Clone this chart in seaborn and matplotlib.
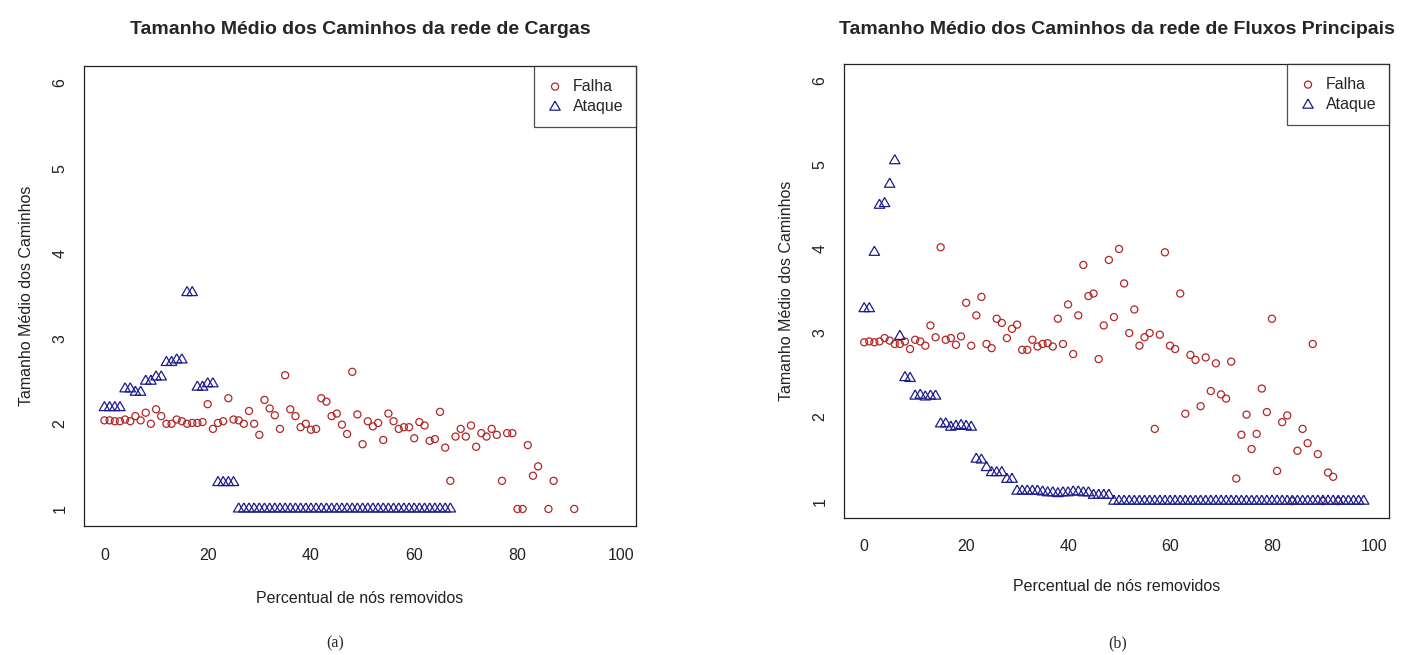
import matplotlib
matplotlib.use("Agg")
import matplotlib.pyplot as plt
import seaborn as sns
import numpy as np
import pandas as pd

# ---- Data (percent of nodes removed vs avg path length) ----

# (a) rede de Cargas
cargas_falha_pct = list(range(0, 92))
cargas_falha = [2.04, 2.04, 2.03, 2.03, 2.05, 2.03, 2.09, 2.04, 2.13, 2.00,
                2.17, 2.09, 2.00, 2.00, 2.05, 2.03, 2.00, 2.01, 2.01, 2.02,
                2.23, 1.94, 2.01, 2.03, 2.30, 2.05, 2.04, 2.00, 2.15, 2.00,
                1.87, 2.28, 2.18, 2.10, 1.94, 2.57, 2.17, 2.09, 1.96, 2.00,
                1.93, 1.94, 2.30, 2.26, 2.09, 2.12, 1.99, 1.88, 2.61, 2.11,
                1.76, 2.03, 1.97, 2.01, 1.81, 2.12, 2.03, 1.94, 1.96, 1.96,
                1.83, 2.02, 1.98, 1.80, 1.82, 2.14, 1.72, 1.33, 1.85, 1.94,
                1.85, 1.98, 1.73, 1.89, 1.85, 1.94, 1.87, 1.33, 1.89, 1.89,
                1.00, 1.00, 1.75, 1.39, 1.50, None, 1.00, 1.33, None, None,
                None, 1.00]

cargas_ataque_pct = list(range(0, 68))
cargas_ataque = [2.19, 2.19, 2.19, 2.19, 2.41, 2.41, 2.37, 2.37, 2.50, 2.50,
                 2.55, 2.55, 2.72, 2.72, 2.75, 2.75, 3.54, 3.54, 2.43, 2.43,
                 2.47, 2.47, 1.31, 1.31, 1.31, 1.31, 1.00, 1.00, 1.00, 1.00,
                 1.00, 1.00, 1.00, 1.00, 1.00, 1.00, 1.00, 1.00, 1.00, 1.00,
                 1.00, 1.00, 1.00, 1.00, 1.00, 1.00, 1.00, 1.00, 1.00, 1.00,
                 1.00, 1.00, 1.00, 1.00, 1.00, 1.00, 1.00, 1.00, 1.00, 1.00,
                 1.00, 1.00, 1.00, 1.00, 1.00, 1.00, 1.00, 1.00]

# (b) rede de Fluxos Principais
fluxos_falha_pct = list(range(0, 94))
fluxos_falha = [2.89, 2.90, 2.89, 2.90, 2.94, 2.91, 2.87, 2.87, 2.90, 2.81,
                2.92, 2.90, 2.85, 3.09, 2.95, 4.02, 2.92, 2.94, 2.86, 2.96,
                3.36, 2.85, 3.21, 3.43, 2.87, 2.82, 3.17, 3.12, 2.94, 3.05,
                3.10, 2.80, 2.80, 2.92, 2.84, 2.87, 2.88, 2.84, 3.17, 2.87,
                3.34, 2.75, 3.21, 3.81, 3.44, 3.47, 2.69, 3.09, 3.87, 3.19,
                4.00, 3.59, 3.00, 3.28, 2.85, 2.95, 3.00, 1.86, 2.98, 3.96,
                2.85, 2.81, 3.47, 2.04, 2.74, 2.68, 2.13, 2.71, 2.31, 2.64,
                2.27, 2.22, 2.66, 1.27, 1.79, 2.03, 1.62, 1.80, 2.34, 2.06,
                3.17, 1.36, 1.94, 2.02, 1.00, 1.60, 1.86, 1.69, 2.87, 1.56,
                1.00, 1.34, 1.29, 1.00]

fluxos_ataque_pct = list(range(0, 99))
fluxos_ataque = [3.29, 3.29, 3.96, 4.52, 4.54, 4.77, 5.05, 2.96, 2.47, 2.46,
                 2.25, 2.26, 2.24, 2.25, 2.25, 1.92, 1.92, 1.88, 1.89, 1.90,
                 1.89, 1.88, 1.50, 1.49, 1.40, 1.34, 1.34, 1.34, 1.26, 1.26,
                 1.12, 1.12, 1.12, 1.12, 1.12, 1.11, 1.10, 1.10, 1.09, 1.10,
                 1.10, 1.11, 1.11, 1.10, 1.10, 1.07, 1.07, 1.07, 1.07, 1.00,
                 1.00, 1.00, 1.00, 1.00, 1.00, 1.00, 1.00, 1.00, 1.00, 1.00,
                 1.00, 1.00, 1.00, 1.00, 1.00, 1.00, 1.00, 1.00, 1.00, 1.00,
                 1.00, 1.00, 1.00, 1.00, 1.00, 1.00, 1.00, 1.00, 1.00, 1.00,
                 1.00, 1.00, 1.00, 1.00, 1.00, 1.00, 1.00, 1.00, 1.00, 1.00,
                 1.00, 1.00, 1.00, 1.00, 1.00, 1.00, 1.00, 1.00, 1.00]

# ---- Style ----
sns.set_style("white")
plt.rcParams['font.family'] = ['Liberation Sans', 'DejaVu Sans']

RED = "#B22626"
BLUE = "#1C1C8E"
tri = [(0, 1), (0.866, -0.5), (-0.866, -0.5), (0, 1)]   # R pch=2 style triangle

fig = plt.figure(figsize=(14.05, 6.55), dpi=100)
ax1 = fig.add_axes([84 / 1405, 1 - 526 / 655, 552 / 1405, 460 / 655])
ax2 = fig.add_axes([844 / 1405, 1 - 518 / 655, 545 / 1405, 454 / 655])


def painel(ax, f_pct, f_val, a_pct, a_val, titulo, tpad, xpad, xlabpad):
    falha = pd.DataFrame({"pct": f_pct, "val": pd.to_numeric(pd.Series(f_val), errors="coerce")}).dropna()
    ataque = pd.DataFrame({"pct": a_pct, "val": a_val})

    sns.scatterplot(data=falha, x="pct", y="val", ax=ax, marker="o", s=26,
                    facecolor="none", edgecolor=RED, linewidth=0.9, label="Falha")
    sns.scatterplot(data=ataque, x="pct", y="val", ax=ax, marker=tri, s=75,
                    facecolor="none", edgecolor=BLUE, linewidth=0.9, label="Ataque")

    ax.set_xlim(-3.96, 102.96)
    ax.set_ylim(0.8, 6.2)
    ax.set_xticks([0, 20, 40, 60, 80, 100])
    ax.set_yticks([1, 2, 3, 4, 5, 6])
    ax.tick_params(direction="out", length=5, width=0.8, colors="#222222", labelsize=11.5)
    ax.tick_params(axis="x", pad=xpad)
    ax.tick_params(axis="y", pad=7)
    plt.setp(ax.get_yticklabels(), rotation=90, va="center")
    for sp in ax.spines.values():
        sp.set_color("#222222")
        sp.set_linewidth(0.9)

    ax.set_title(titulo, fontsize=14, fontweight="bold", pad=tpad)
    ax.set_xlabel("Percentual de nós removidos", fontsize=11.5, labelpad=xlabpad, color="#222222")
    ax.set_ylabel("Tamanho Médio dos Caminhos", fontsize=11.5, labelpad=13, color="#222222")

    leg = ax.legend(loc="upper right", borderaxespad=0, fancybox=False, frameon=True,
                    fontsize=11.5, handletextpad=0.6, borderpad=0.8, labelspacing=0.35,
                    handlelength=1.0)
    leg.get_frame().set_edgecolor("#222222")
    leg.get_frame().set_linewidth(0.9)


painel(ax1, cargas_falha_pct, cargas_falha, cargas_ataque_pct, cargas_ataque,
       "Tamanho Médio dos Caminhos da rede de Cargas", 23, 11, 20)
painel(ax2, fluxos_falha_pct, fluxos_falha, fluxos_ataque_pct, fluxos_ataque,
       "Tamanho Médio dos Caminhos da rede de Fluxos Principais", 21.5, 10, 18)

fig.text(335 / 1405, 1 - 643 / 655, "(a)", ha="center", va="center", fontsize=11.5,
         family=["Liberation Serif", "DejaVu Serif"])
fig.text(1118 / 1405, 1 - 643 / 655, "(b)", ha="center", va="center", fontsize=11.5,
         family=["Liberation Serif", "DejaVu Serif"])

plt.savefig("out.png", dpi=100, facecolor="white")
